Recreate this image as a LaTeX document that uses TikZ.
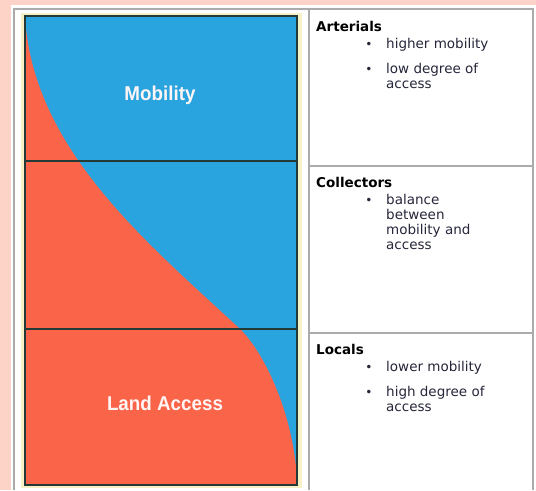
\documentclass[tikz,border=0pt]{standalone}
\usepackage{fontspec}
\setmainfont{DejaVu Sans}
\newfontfamily\photofont{Liberation Sans}
\usetikzlibrary{positioning}
\definecolor{PagePink}{HTML}{FCD3C6}
\definecolor{CellGray}{HTML}{ABABAB}
\definecolor{PhotoCream}{HTML}{F6F1C6}
\definecolor{MobBlue}{HTML}{2AA4DF}
\definecolor{AccRed}{HTML}{FA6449}
\definecolor{FrameDark}{HTML}{243A36}
\definecolor{TextDark}{HTML}{26263A}

\begin{document}
\begin{tikzpicture}[
  x=1pt, y=-1pt,
  cell/.style={draw=CellGray, line width=1.4pt},
  frame/.style={draw=FrameDark, line width=1.1pt},
  head/.style={anchor=base west, inner sep=0pt, text=black, font=\fontsize{13.5}{16}\selectfont\bfseries},
  item/.style={anchor=base west, inner sep=0pt, text=TextDark, align=left, font=\fontsize{13.5}{16}\selectfont},
  dot/.style={anchor=base, inner sep=0pt, text=TextDark, font=\fontsize{12}{16}\selectfont},
  zone/.style={inner sep=0pt, text=white!96!red, font=\photofont\fontsize{20}{22}\selectfont\bfseries}
]
  % page and table
  \fill[PagePink] (0,0) rectangle (536,490);
  \fill[white] (11,5) rectangle (536,490);
  \draw[cell] (14,490) -- (14,9) -- (533,9) -- (533,490);
  \draw[cell] (309,9) -- (309,490);
  \draw[cell] (309,166) -- (533,166);
  \draw[cell] (309,333) -- (533,333);

  % the picture
  \fill[PhotoCream] (21,13) rectangle (302,488);
  \fill[MobBlue] (25,16) rectangle (297,485);
  \fill[AccRed] (25,16) .. controls (32,150) and (150,245) .. (240,329)
    .. controls (260,348) and (292,405) .. (297,478) -- (297,485) -- (25,485) -- cycle;
  \draw[frame] (25,16) rectangle (297,485);
  \draw[frame] (25,161) -- (297,161);
  \draw[frame] (25,329) -- (297,329);
  \node[zone] (mobility) at (160,95) {\scalebox{0.94}[1]{Mobility}};
  \node[zone] (landaccess) at (165,403) {\scalebox{0.94}[1]{Land Access}};

  % arterials (multi-line items sit on their last baseline)
  \node[head] (arterials) at (316,31) {Arterials};
  \node[dot] (art-b1) at (369,48) {•};
  \node[item] (art-i1) at (386,48) {higher mobility};
  \node[dot] (art-b2) at (369,73) {•};
  \node[item] (art-i2) at (386,88) {low degree of\\[-1pt]access};

  % collectors
  \node[head] (collectors) at (316,187) {Collectors};
  \node[dot] (col-b1) at (369,204) {•};
  \node[item] (col-i1) at (386,249) {balance\\[-1pt]between\\[-1pt]mobility and\\[-1pt]access};

  % locals
  \node[head] (locals) at (316,354) {Locals};
  \node[dot] (loc-b1) at (369,371) {•};
  \node[item] (loc-i1) at (386,371) {lower mobility};
  \node[dot] (loc-b2) at (369,396) {•};
  \node[item] (loc-i2) at (386,411) {high degree of\\[-1pt]access};
\end{tikzpicture}
\end{document}
